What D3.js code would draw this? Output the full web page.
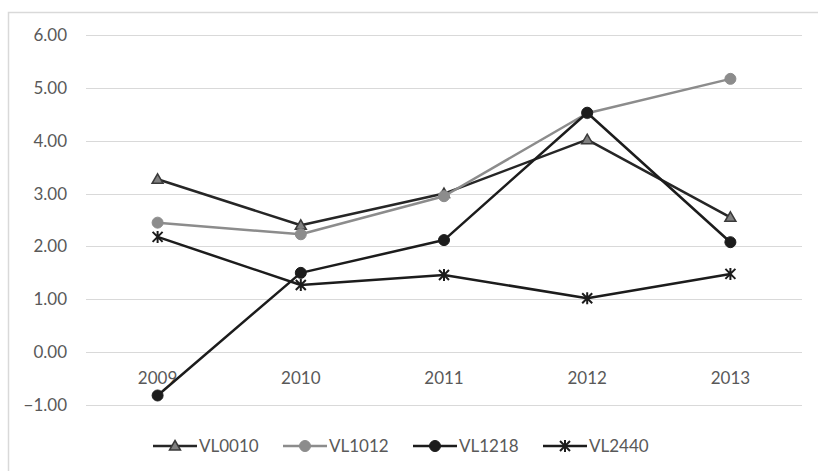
<!DOCTYPE html>
<html>
<head>
<meta charset="utf-8">
<script src="https://cdn.jsdelivr.net/npm/d3@7"></script>
<style>
  html, body { margin: 0; padding: 0; background: #fff; }
  svg { display: block; }
  text { font-family: Lato, "Open Sans", sans-serif; fill: #595959; }
</style>
</head>
<body>
<svg id="chart" width="818" height="471"></svg>
<script>
// Years along the category axis
const years = ["2009", "2010", "2011", "2012", "2013"];

// Series values per year
const vl0010 = [3.27, 2.40, 3.00, 4.02, 2.55];
const vl1012 = [2.45, 2.23, 2.95, 4.52, 5.17];
const vl1218 = [-0.82, 1.50, 2.12, 4.53, 2.08];
const vl2440 = [2.18, 1.27, 1.46, 1.02, 1.48];

// Value-axis ticks
const yTicks = [-1, 0, 1, 2, 3, 4, 5, 6];

const seriesNames = ["VL0010", "VL1012", "VL1218", "VL2440"];
const seriesValues = [vl0010, vl1012, vl1218, vl2440];
const seriesStyle = [
  { line: "#262626", marker: "triangle", fill: "#808080", stroke: "#3a3a3a" },
  { line: "#8c8c8c", marker: "circle", fill: "#8c8c8c", stroke: "#8c8c8c" },
  { line: "#1c1c1c", marker: "circle", fill: "#1c1c1c", stroke: "#1c1c1c" },
  { line: "#1c1c1c", marker: "star", fill: "#1c1c1c", stroke: "#1c1c1c" }
];

const fontSize = "17px";

const svg = d3.select("#chart");

// Outer chart frame (runs off the right and bottom edges)
svg.append("rect")
  .attr("x", 8.5).attr("y", 12.5)
  .attr("width", 830).attr("height", 480)
  .attr("fill", "none").attr("stroke", "#d9d9d9").attr("stroke-width", 1.5);

const plot = { left: 86, right: 802, top: 35, bottom: 405 };

const x = d3.scaleBand().domain(years).range([plot.left, plot.right]);
const y = d3.scaleLinear().domain([-1, 6]).range([plot.bottom, plot.top]);

// Horizontal gridlines
svg.append("g").selectAll("line").data(yTicks).join("line")
  .attr("x1", plot.left).attr("x2", plot.right)
  .attr("y1", d => Math.round(y(d)) + 0.5).attr("y2", d => Math.round(y(d)) + 0.5)
  .attr("stroke", "#d9d9d9").attr("stroke-width", 1);

// Value labels
svg.append("g").selectAll("text").data(yTicks).join("text")
  .attr("x", 67).attr("y", d => y(d))
  .attr("dy", "0.35em").attr("text-anchor", "end")
  .style("font-size", fontSize)
  .text(d => d3.format(".2f")(d));

// Category labels, placed just under the zero line
svg.append("g").selectAll("text").data(years).join("text")
  .attr("x", d => x(d) + x.bandwidth() / 2).attr("y", y(0) + 26)
  .attr("dy", "0.35em")
  .attr("text-anchor", "middle")
  .style("font-size", fontSize)
  .text(d => d);

const cx = d => x(d) + x.bandwidth() / 2;

function drawMarker(g, kind, st, px, py) {
  if (kind === "circle") {
    g.append("circle").attr("cx", px).attr("cy", py).attr("r", 5.5)
      .attr("fill", st.fill).attr("stroke", st.stroke);
  } else if (kind === "triangle") {
    g.append("path")
      .attr("d", `M${px},${py - 5.5}L${px + 5.5},${py + 4}L${px - 5.5},${py + 4}Z`)
      .attr("fill", st.fill).attr("stroke", st.stroke).attr("stroke-width", 1.5)
      .attr("stroke-linejoin", "miter");
  } else if (kind === "star") {
    const r = 5;
    g.append("path")
      .attr("d", `M${px - r},${py - r}L${px + r},${py + r}M${px - r},${py + r}L${px + r},${py - r}M${px},${py - r - 1}L${px},${py + r + 1}`)
      .attr("stroke", st.stroke).attr("stroke-width", 2).attr("fill", "none");
  }
}

const line = d3.line().x(d => cx(d.year)).y(d => y(d.value));

seriesValues.forEach((vals, i) => {
  const st = seriesStyle[i];
  const pts = years.map((yr, j) => ({ year: yr, value: vals[j] }));
  const g = svg.append("g");
  g.append("path").datum(pts)
    .attr("d", line)
    .attr("fill", "none").attr("stroke", st.line).attr("stroke-width", 2.5)
    .attr("stroke-linejoin", "round");
  pts.forEach(p => drawMarker(g, st.marker, st, cx(p.year), y(p.value)));
});

// Legend along the bottom
const legendX = [153, 283, 413, 543];
const legendY = 446;
seriesNames.forEach((name, i) => {
  const st = seriesStyle[i];
  const g = svg.append("g");
  const x0 = legendX[i];
  g.append("line").attr("x1", x0).attr("x2", x0 + 44)
    .attr("y1", legendY).attr("y2", legendY)
    .attr("stroke", st.line).attr("stroke-width", 2.5);
  drawMarker(g, st.marker, st, x0 + 22, legendY);
  g.append("text").attr("x", x0 + 46).attr("y", legendY)
    .attr("dy", "0.35em").style("font-size", fontSize).text(name);
});
</script>
</body>
</html>
